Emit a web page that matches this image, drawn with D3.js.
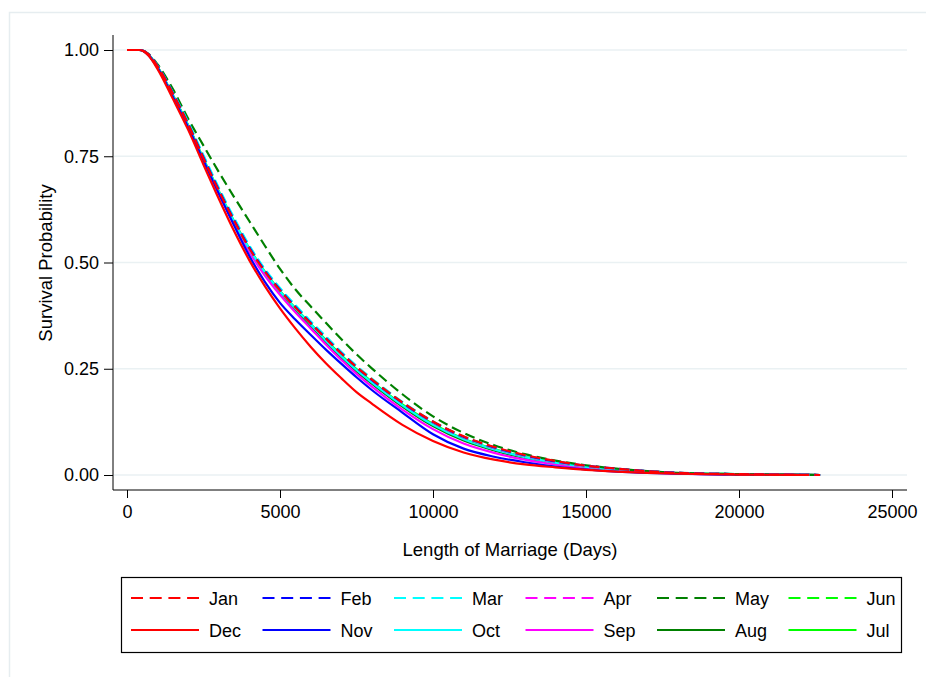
<!DOCTYPE html>
<html>
<head>
<meta charset="utf-8">
<script src="https://cdn.jsdelivr.net/npm/d3@7/dist/d3.min.js"></script>
<style>
  body { margin: 0; background: #fff; }
  svg text { font-family: "Liberation Sans", Arial, sans-serif; fill: #000; }
</style>
</head>
<body>
<svg id="chart" width="926" height="677"></svg>
<script>
// ---- data ----
const days = [0,400,700,1000,1500,2000,2500,3000,3500,4000,4500,5000,5500,6000,6500,7000,7500,8000,9000,10000,11000,12000,13000,14000,15000,16000,17000,18000,20000,22000,22650];

const jan = [1,1,0.99,0.961,0.897,0.825,0.745,0.669,0.598,0.533,0.479,0.434,0.394,0.357,0.321,0.286,0.254,0.225,0.171,0.126,0.091,0.066,0.047,0.033,0.022,0.015,0.009,0.005,0.002,0.0005,0];
const feb = [1,1,0.99,0.962,0.898,0.826,0.747,0.671,0.6,0.535,0.481,0.436,0.396,0.358,0.322,0.287,0.254,0.224,0.17,0.125,0.09,0.065,0.046,0.032,0.022,0.015,0.009,0.005,0.002,0.0005,0];
const mar = [1,1,0.99,0.963,0.9,0.83,0.752,0.676,0.605,0.54,0.485,0.44,0.4,0.362,0.326,0.29,0.257,0.227,0.172,0.126,0.09,0.064,0.045,0.031,0.021,0.014,0.009,0.005,0.002,0.0005,0];
const apr = [1,1,0.99,0.962,0.898,0.827,0.748,0.672,0.601,0.536,0.481,0.436,0.396,0.358,0.322,0.287,0.254,0.224,0.17,0.124,0.089,0.063,0.044,0.03,0.02,0.013,0.008,0.005,0.002,0.0005,0];
const may = [1,1,0.991,0.966,0.908,0.838,0.775,0.713,0.654,0.597,0.54,0.485,0.437,0.397,0.358,0.32,0.284,0.251,0.19,0.138,0.099,0.07,0.049,0.034,0.023,0.015,0.009,0.005,0.002,0.0005,0];
const jun = [1,1,0.99,0.962,0.899,0.828,0.749,0.673,0.602,0.537,0.483,0.438,0.398,0.36,0.324,0.288,0.255,0.225,0.17,0.124,0.088,0.063,0.044,0.03,0.02,0.013,0.008,0.005,0.002,0.0005,0];
const jul = [1,1,0.989,0.96,0.894,0.823,0.744,0.668,0.597,0.533,0.479,0.433,0.393,0.356,0.318,0.282,0.249,0.22,0.166,0.12,0.085,0.061,0.043,0.029,0.019,0.012,0.008,0.004,0.002,0.0005,0];
const aug = [1,1,0.989,0.96,0.892,0.821,0.741,0.665,0.594,0.529,0.475,0.429,0.389,0.351,0.313,0.277,0.244,0.215,0.161,0.115,0.081,0.058,0.04,0.027,0.018,0.011,0.007,0.004,0.001,0.0003,0];
const sep = [1,1,0.989,0.959,0.891,0.82,0.739,0.662,0.59,0.525,0.47,0.424,0.383,0.345,0.307,0.271,0.238,0.208,0.154,0.108,0.074,0.052,0.036,0.025,0.016,0.01,0.006,0.003,0.001,0.0003,0];
const oct = [1,1,0.989,0.96,0.893,0.822,0.743,0.667,0.596,0.532,0.478,0.432,0.392,0.355,0.316,0.28,0.247,0.218,0.164,0.118,0.084,0.06,0.042,0.029,0.019,0.012,0.008,0.004,0.002,0.0005,0];
const nov = [1,1,0.988,0.958,0.89,0.818,0.74,0.662,0.587,0.515,0.455,0.405,0.366,0.33,0.295,0.262,0.23,0.2,0.147,0.096,0.062,0.043,0.03,0.02,0.013,0.008,0.005,0.003,0.001,0.0003,0];
const dec = [1,1,0.987,0.955,0.885,0.812,0.73,0.65,0.574,0.505,0.445,0.392,0.345,0.302,0.263,0.228,0.195,0.168,0.118,0.08,0.053,0.036,0.025,0.018,0.012,0.008,0.005,0.003,0.001,0,null];

const xTicks = [0,5000,10000,15000,20000,25000];
const yTicks = [0,0.25,0.5,0.75,1];

// legend order (row 1 then row 2)
const legendNames = ["Jan","Feb","Mar","Apr","May","Jun","Dec","Nov","Oct","Sep","Aug","Jul"];
const legendColors = ["#ff0000","#0000ff","#00ffff","#ff00ff","#008000","#00ff00","#ff0000","#0000ff","#00ffff","#ff00ff","#008000","#00ff00"];
const legendDashed = [true,true,true,true,true,true,false,false,false,false,false,false];
const seriesValues = {Jan:jan,Feb:feb,Mar:mar,Apr:apr,May:may,Jun:jun,Jul:jul,Aug:aug,Sep:sep,Oct:oct,Nov:nov,Dec:dec};
const drawOrder = ["Jul","Aug","Sep","Oct","Nov","Jun","May","Apr","Mar","Feb","Jan","Dec"];

// ---- layout ----
const svg = d3.select("#chart");
const x = d3.scaleLinear().domain([0,25000]).range([127,892]);
const y = d3.scaleLinear().domain([0,1]).range([475,50]);
const axisX0 = 113, axisY0 = 490, plotRight = 907;
const FONT = "Liberation Sans, Arial, sans-serif";

// outer frame
svg.append("rect").attr("x",9.5).attr("y",12.5).attr("width",940).attr("height",700)
  .attr("fill","#fff").attr("stroke","#e6edf0").attr("stroke-width",1.5);

// gridlines
svg.append("g").selectAll("line").data(yTicks).join("line")
  .attr("x1",axisX0+1).attr("x2",plotRight)
  .attr("y1",d=>y(d)).attr("y2",d=>y(d))
  .attr("stroke","#eaf1f3").attr("stroke-width",1.5);

// axes
const yAxis = d3.axisLeft(y).tickValues(yTicks).tickFormat(d3.format(".2f")).tickSize(9).tickPadding(5);
const gy = svg.append("g").attr("transform",`translate(${axisX0},0)`).call(yAxis);
gy.select(".domain").attr("d",`M0,35V${axisY0}`).attr("stroke","#000");
gy.selectAll(".tick line").attr("stroke","#000");
gy.selectAll(".tick text").attr("font-size",18).attr("font-family",FONT);

const xAxis = d3.axisBottom(x).tickValues(xTicks).tickFormat(d3.format("d")).tickSize(8).tickPadding(7);
const gx = svg.append("g").attr("transform",`translate(0,${axisY0})`).call(xAxis);
gx.select(".domain").attr("d",`M${axisX0},0H${plotRight}`).attr("stroke","#000");
gx.selectAll(".tick line").attr("stroke","#000");
gx.selectAll(".tick text").attr("font-size",18).attr("font-family",FONT);

// axis titles
svg.append("text").attr("x",510).attr("y",556).attr("text-anchor","middle")
  .attr("font-size",18.5).text("Length of Marriage (Days)");
svg.append("text").attr("transform","translate(52,263) rotate(-90)").attr("text-anchor","middle")
  .attr("font-size",18.5).text("Survival Probability");

// curves
const line = d3.line()
  .defined(d => d[1] !== null)
  .x(d => x(d[0])).y(d => y(d[1]))
  .curve(d3.curveMonotoneX);

const styleOf = name => {
  const i = legendNames.indexOf(name);
  return {color: legendColors[i], dashed: legendDashed[i]};
};

const curves = svg.append("g").attr("fill","none");
drawOrder.forEach(name => {
  const st = styleOf(name);
  const pts = days.map((d,i) => [d, seriesValues[name][i]]);
  curves.append("path").datum(pts)
    .attr("d", line)
    .attr("stroke", st.color)
    .attr("stroke-width", 2.2)
    .attr("stroke-dasharray", st.dashed ? "10,5" : null);
});

// legend
const lg = svg.append("g");
lg.append("rect").attr("x",121.5).attr("y",577.5).attr("width",780).attr("height",75)
  .attr("fill","#fff").attr("stroke","#000").attr("stroke-width",1.2);
const colStep = 131.5, x0 = 131, rowY = [598, 630];
legendNames.forEach((name,i) => {
  const col = i % 6, row = Math.floor(i/6);
  const lx = x0 + col*colStep, ly = rowY[row];
  lg.append("line").attr("x1",lx).attr("x2",lx+68).attr("y1",ly).attr("y2",ly)
    .attr("stroke",legendColors[i]).attr("stroke-width",2.2)
    .attr("stroke-dasharray", legendDashed[i] ? "12,6.7" : null);
  lg.append("text").attr("x",lx+78).attr("y",ly+6.5).attr("font-size",18).text(name);
});
</script>
</body>
</html>
